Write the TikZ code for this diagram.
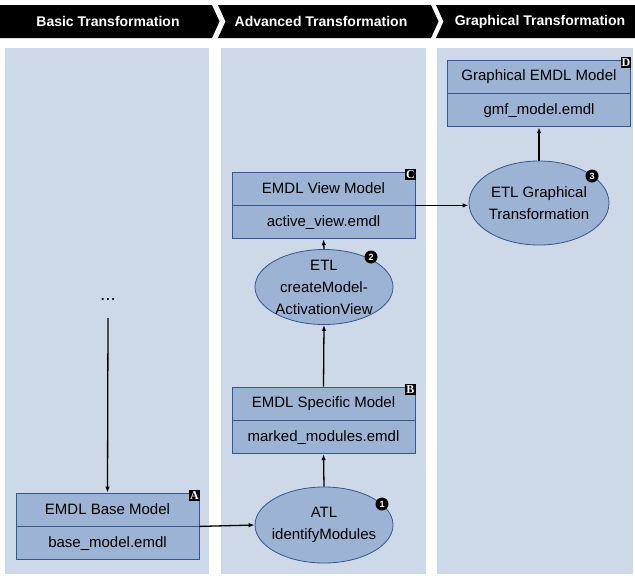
\documentclass[tikz,border=0pt]{standalone}
\usepackage{fontspec}
\setmainfont{Liberation Sans}
\newfontfamily\serifbadge{Liberation Serif}
\usetikzlibrary{shapes.geometric,arrows.meta}
\definecolor{panelc}{HTML}{CDD9E8}
\definecolor{boxc}{HTML}{9CB3D3}
\definecolor{edgec}{HTML}{35578C}
\tikzset{
  panel/.style={fill=panelc,draw=none},
  hdr/.style={fill=black,draw=none},
  hdrtext/.style={text=white,font=\fontsize{14}{16}\selectfont\bfseries,inner sep=0pt},
  boxpart/.style={draw=edgec,fill=boxc,line width=0.8pt,minimum width=183pt,minimum height=33pt,inner sep=0pt,font=\fontsize{15}{18}\selectfont},
  ell/.style={ellipse,draw=edgec,fill=boxc,line width=0.8pt,inner sep=0pt},
  elltext/.style={align=center,inner sep=0pt,font=\fontsize{15}{22}\selectfont},
  letterbadge/.style={fill=black,text=white,font=\serifbadge\bfseries\fontsize{12}{12}\selectfont,inner xsep=1pt,inner ysep=0.5pt,minimum width=10.5pt,minimum height=11.5pt},
  numbadge/.style={circle,fill=black,text=white,font=\fontsize{9}{9}\selectfont\bfseries,inner sep=0pt,minimum size=13pt},
  conn/.style={line width=1.3pt,-{Latex[length=6pt,width=4.5pt]}}
}
\begin{document}
\begin{tikzpicture}[x=1pt,y=-1pt]
\useasboundingbox (0,0) rectangle (635,576);
% header
\fill[hdr] (0,5) -- (212,5) -- (219.5,21.5) -- (212,38) -- (0,38) -- cycle;
\fill[hdr] (218,5) -- (431,5) -- (438.5,21.5) -- (431,38) -- (218,38) -- (225.5,21.5) -- cycle;
\fill[hdr] (436,5) -- (635,5) -- (635,38) -- (436,38) -- (443.5,21.5) -- cycle;
\node[hdrtext] (h1) at (108,21.5) {Basic Transformation};
\node[hdrtext] (h2) at (321,21.5) {Advanced Transformation};
\node[hdrtext] (h3) at (540,21.5) {Graphical Transformation};
% panels
\fill[panel] (5,48) rectangle (209,574);
\fill[panel] (221,48) rectangle (426,574);
\fill[panel] (437,48) rectangle (633,574);
% boxes
\node[boxpart] (At) at (107.5,509.5) {EMDL Base Model};
\node[boxpart,anchor=north] (Ab) at (At.south) {base\_model.emdl};
\node[boxpart] (Bt) at (323.5,403.5) {EMDL Specific Model};
\node[boxpart,anchor=north] (Bb) at (Bt.south) {marked\_modules.emdl};
\node[boxpart] (Ct) at (323.5,188.5) {EMDL View Model};
\node[boxpart,anchor=north] (Cb) at (Ct.south) {active\_view.emdl};
\node[boxpart] (Dt) at (539,76.5) {Graphical EMDL Model};
\node[boxpart,anchor=north] (Db) at (Dt.south) {gmf\_model.emdl};
% letter badges
\node[letterbadge,anchor=north east] (lA) at ([yshift=3pt,xshift=0.5pt]At.north east) {A};
\node[letterbadge,anchor=north east] (lB) at ([yshift=3pt,xshift=0.5pt]Bt.north east) {B};
\node[letterbadge,anchor=north east] (lC) at ([yshift=3pt,xshift=0.5pt]Ct.north east) {C};
\node[letterbadge,anchor=north east] (lD) at ([yshift=3pt,xshift=0.5pt]Dt.north east) {D};
% ellipses
\node[ell,minimum width=138pt,minimum height=76pt] (e1) at (324,525) {};
\node[elltext] (e1t) at (e1) {ATL\\identifyModules};
\node[ell,minimum width=138pt,minimum height=75pt] (e2) at (324,287) {};
\node[elltext] (e2t) at (e2) {ETL\\createModel-\\ActivationView};
\node[ell,minimum width=140pt,minimum height=84pt] (e3) at (539,203) {};
\node[elltext] (e3t) at (e3) {ETL Graphical\\Transformation};
% number badges
\node[numbadge] (n1) at (382,504) {1};
\node[numbadge] (n2) at (371,257) {2};
\node[numbadge] (n3) at (592,176) {3};
% dots
\node[inner sep=0pt,minimum height=38pt,font=\fontsize{19}{20}\selectfont] (dots) at (108,299) {...};
% connectors
\draw[conn] (dots.south) -- (At.north);
\draw[conn] (At.south east) -- (e1.west);
\draw[conn] (e1.north) -- (Bb.south);
\draw[conn] (Bt.north) -- (e2.south);
\draw[conn] (e2.north) -- (Cb.south);
\draw[conn] (Ct.south east) -- (e3.west |- Ct.south east);
\draw[conn] (e3.north) -- (Db.south);
\end{tikzpicture}
\end{document}
